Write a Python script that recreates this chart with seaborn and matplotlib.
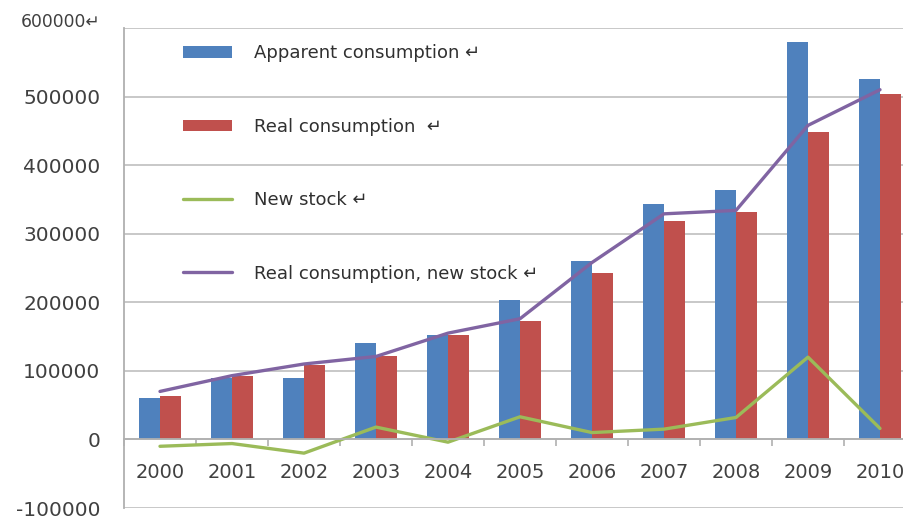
import matplotlib
matplotlib.use("Agg")
import matplotlib.pyplot as plt
import matplotlib.transforms as mtransforms
from matplotlib.patches import Patch
from matplotlib.lines import Line2D
import numpy as np
import pandas as pd
import seaborn as sns

years = ["2000", "2001", "2002", "2003", "2004", "2005", "2006", "2007", "2008", "2009", "2010"]
apparent = [61000, 89000, 89000, 140000, 152000, 204000, 260000, 343000, 364000, 579000, 525000]
real = [64000, 92000, 108000, 121000, 152000, 172000, 243000, 319000, 332000, 449000, 504000]
new_stock = [-10000, -6000, -20000, 18000, -4000, 33000, 10000, 15000, 32000, 120000, 16000]
real_new = [70000, 93000, 110000, 121000, 155000, 176000, 258000, 329000, 334000, 458000, 510000]
yticks = [-100000, 0, 100000, 200000, 300000, 400000, 500000, 600000]
ytick_labels = ["-100000", "0", "100000", "200000", "300000", "400000", "500000", "600000\u21b5"]
legend_labels = ["Apparent consumption \u21b5", "Real consumption  \u21b5", "New stock \u21b5", "Real consumption, new stock \u21b5"]

c_blue, c_red, c_green, c_purple = "#4F81BD", "#C0504D", "#9BBB59", "#8064A2"

sns.set_theme(style="white")
plt.rcParams['font.family'] = ['DejaVu Sans']

fig = plt.figure(figsize=(9.04, 5.18), dpi=100)
ax = fig.add_axes([124/904, 10/518, 792/904, 480/518])

df = pd.DataFrame({
    "year": years * 2,
    "value": apparent + real,
    "series": ["Apparent"] * len(years) + ["Real"] * len(years),
})
sns.barplot(data=df, x="year", y="value", hue="series", palette=[c_blue, c_red],
            width=0.58, saturation=1, ax=ax, legend=False, gap=0, linewidth=0)

xi = np.arange(len(years))
sns.lineplot(x=xi, y=new_stock, color=c_green, linewidth=2.4, ax=ax)
sns.lineplot(x=xi, y=real_new, color=c_purple, linewidth=2.4, ax=ax)

ax.set_xlim(-0.5, len(years) - 0.5)
ax.set_ylim(-100000, 600000)
ax.set_yticks(yticks)
ax.set_yticklabels(ytick_labels)
ax.yaxis.grid(True, color="#c4c4c4", linewidth=1.3)
ax.set_axisbelow(True)
ax.set_xlabel("")
ax.set_ylabel("")

for s in ["top", "right"]:
    ax.spines[s].set_visible(False)
ax.spines["left"].set_color("#b0b0b0")
ax.spines["left"].set_linewidth(1.3)
ax.spines["bottom"].set_position(("data", 0))
ax.spines["bottom"].set_color("#b0b0b0")
ax.spines["bottom"].set_linewidth(1.3)

ax.set_xticks(xi)
ax.set_xticklabels(years)
ax.set_xticks(np.arange(len(years) + 1) - 0.5, minor=True)
ax.tick_params(axis="x", which="major", length=0, pad=17, labelsize=14, labelcolor="#404040")
ax.tick_params(axis="x", which="minor", length=5, width=1.2, color="#b0b0b0", direction="out", bottom=True)
ax.tick_params(axis="y", length=0, pad=17, labelsize=14.5, labelcolor="#404040")

# the top label is smaller and sits slightly above its gridline
lab = ax.get_yticklabels()[-1]
lab.set_fontsize(12.3)
lab.set_transform(lab.get_transform() + mtransforms.ScaledTranslation(0, 8/100, fig.dpi_scale_trans))

handles = [
    Patch(facecolor=c_blue, edgecolor="none"),
    Patch(facecolor=c_red, edgecolor="none"),
    Line2D([], [], color=c_green, linewidth=2.4),
    Line2D([], [], color=c_purple, linewidth=2.4),
]
leg = ax.legend(handles, legend_labels, loc="upper left", bbox_to_anchor=(52/792, 1 - 9/480),
                frameon=False, fontsize=13, handlelength=2.7, handleheight=0.6,
                handletextpad=1.2, labelspacing=3.07, borderaxespad=0)
for t in leg.get_texts():
    t.set_color("#303030")

fig.savefig("out.png", dpi=100)
